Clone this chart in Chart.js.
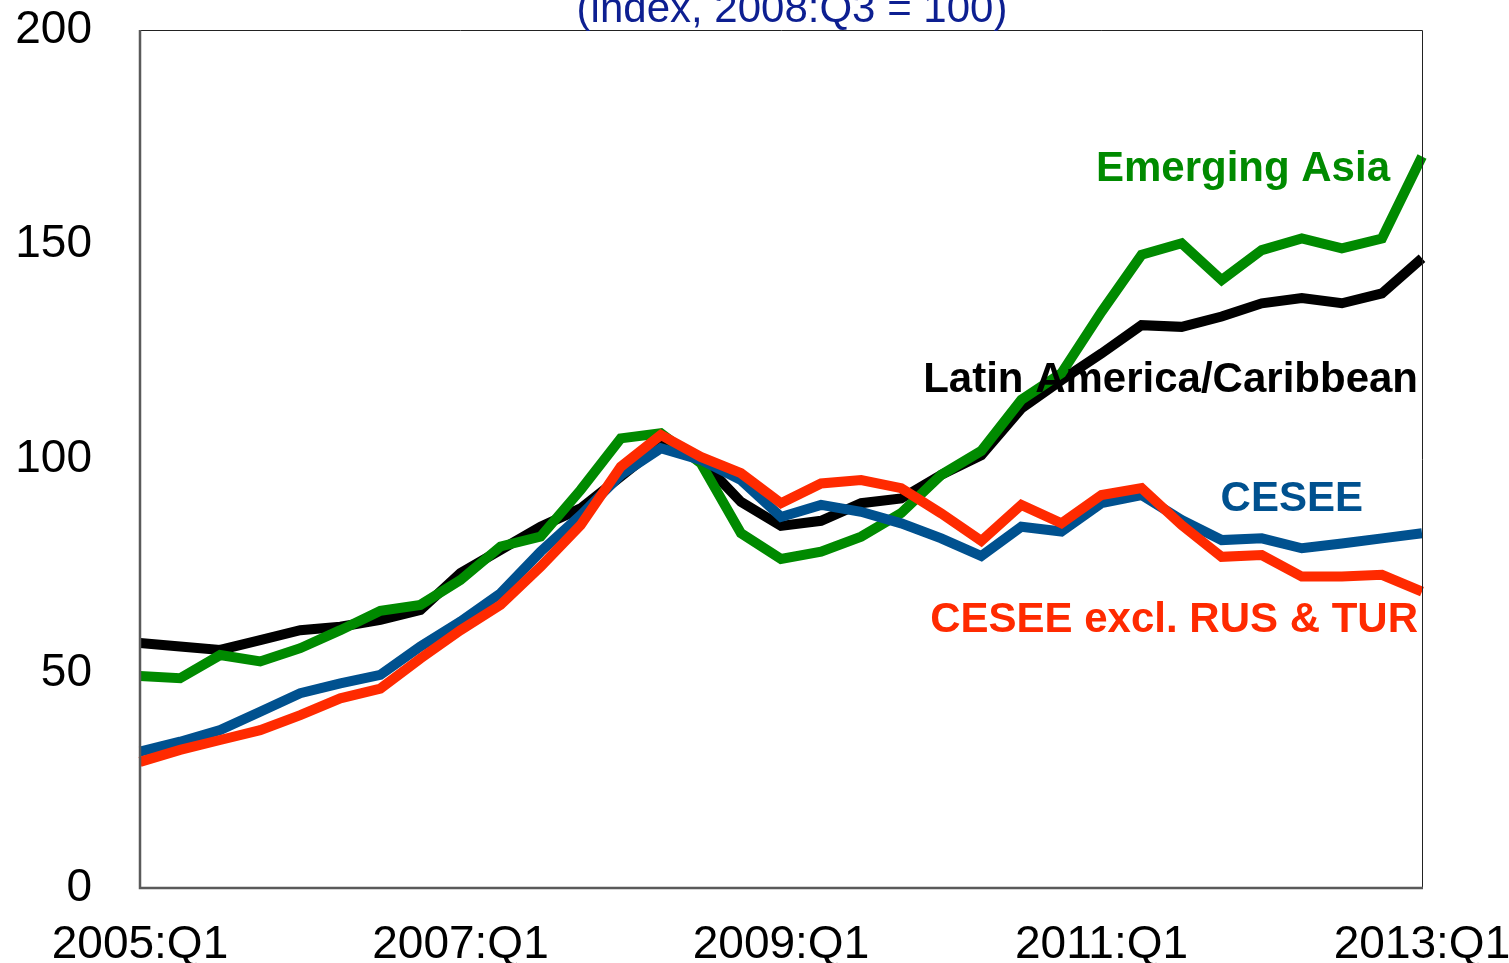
<!DOCTYPE html>
<html>
<head>
<meta charset="utf-8">
<script src="https://cdn.jsdelivr.net/npm/chart.js@4/dist/chart.umd.min.js"></script>
<style>
  html, body { margin: 0; padding: 0; background: #fff; }
  #wrap { width: 1509px; height: 963px; }
</style>
</head>
<body>
<div id="wrap"><canvas id="chart"></canvas></div>
<script>
// quarters 2005:Q1 .. 2013:Q1
const quarters = [];
for (let y = 2005; y <= 2013; y++) {
    for (let q = 1; q <= 4; q++) {
        if (y === 2013 && q > 1) break;
        quarters.push(y + ':Q' + q);
    }
}

// series (index, 2008:Q3 = 100)
const latinAmerica = [57.1, 56.3, 55.5, 57.8, 60.1, 60.9, 62.5, 64.8, 73.4, 78.8, 84.2, 88.5,
    95.9, 103.3, 99.8, 90.0, 84.4, 85.6, 89.7, 90.8, 96.3, 100.9, 111.8, 118.4,
    124.6, 131.2, 130.8, 133.2, 136.3, 137.5, 136.3, 138.6, 146.8];
const emergingAsia = [49.4, 48.9, 54.3, 52.8, 55.9, 60.1, 64.6, 66.0, 71.8, 79.6, 81.9, 92.8,
    104.8, 106.0, 99.0, 82.7, 76.7, 78.4, 81.9, 87.4, 96.3, 101.9, 113.8, 120.0,
    134.3, 147.6, 150.3, 141.7, 148.7, 151.4, 149.1, 151.4, 170.5];
const cesee = [31.8, 34.1, 36.8, 41.1, 45.4, 47.7, 49.7, 56.3, 62.1, 68.7, 78.4, 86.9,
    96.3, 102.5, 99.8, 95.1, 86.5, 89.3, 87.7, 85.0, 81.5, 77.4, 84.2, 83.1,
    89.7, 91.6, 85.8, 81.1, 81.5, 79.2, 80.3, 81.5, 82.7];
const ceseeExRusTur = [29.4, 32.2, 34.5, 36.8, 40.3, 44.2, 46.5, 53.5, 60.1, 66.0, 74.9, 84.6,
    98.2, 105.6, 100.5, 96.7, 89.7, 94.3, 95.1, 93.2, 87.3, 80.9, 89.3, 85.0,
    91.6, 93.2, 84.6, 77.2, 77.6, 72.6, 72.6, 73.0, 69.1];

const yTicks = [0, 50, 100, 150, 200];

const font = '"Liberation Sans", Arial, Helvetica, sans-serif';

// series labels drawn inside the plot
const seriesLabels = [
    { text: 'Emerging Asia', color: '#008a00', value: 164.8, dx: 32 },
    { text: 'Latin America/Caribbean', color: '#000000', value: 115.6, dx: 4 },
    { text: 'CESEE', color: '#00518f', value: 87.9, dx: 59 },
    { text: 'CESEE excl. RUS & TUR', color: '#ff2a00', value: 59.7, dx: 4 }
];

const framePlugin = {
    id: 'frame',
    afterDraw(chart) {
        const { ctx, chartArea: a, scales } = chart;
        ctx.save();
        // thin top and right border
        ctx.strokeStyle = '#222';
        ctx.lineWidth = 1;
        ctx.beginPath();
        ctx.moveTo(a.left, a.top + 0.5);
        ctx.lineTo(a.right + 0.5, a.top + 0.5);
        ctx.lineTo(a.right + 0.5, a.bottom);
        ctx.stroke();
        // heavier grey left and bottom axes
        ctx.strokeStyle = '#5a5a5a';
        ctx.lineWidth = 2.5;
        ctx.beginPath();
        ctx.moveTo(a.left, a.top);
        ctx.lineTo(a.left, a.bottom);
        ctx.lineTo(a.right + 1, a.bottom);
        ctx.stroke();
        // subtitle, cut off at the top like the original
        ctx.fillStyle = '#0d1f91';
        ctx.font = '42px ' + font;
        ctx.textAlign = 'center';
        ctx.textBaseline = 'alphabetic';
        ctx.fillText('(index, 2008:Q3 = 100)', 792, 22);
        // series names
        ctx.font = 'bold 42px ' + font;
        ctx.textAlign = 'right';
        seriesLabels.forEach(l => {
            ctx.fillStyle = l.color;
            ctx.fillText(l.text, a.right - l.dx, scales.y.getPixelForValue(l.value));
        });
        ctx.restore();
    }
};

function line(label, data, color) {
    return {
        label: label,
        data: data,
        borderColor: color,
        backgroundColor: color,
        borderWidth: 10,
        pointRadius: 0,
        tension: 0,
        fill: false
    };
}

// drop the extra room Chart.js keeps for half-labels at the ends
function noPad(scale) {
    scale.paddingTop = 0;
    scale.paddingBottom = 0;
    scale.paddingLeft = 0;
    scale.paddingRight = 0;
}

new Chart(document.getElementById('chart'), {
    type: 'line',
    data: {
        labels: quarters,
        // first dataset is drawn on top
        datasets: [
            line('CESEE excl. RUS & TUR', ceseeExRusTur, '#ff2a00'),
            line('CESEE', cesee, '#00518f'),
            line('Emerging Asia', emergingAsia, '#008a00'),
            line('Latin America/Caribbean', latinAmerica, '#000000')
        ]
    },
    options: {
        responsive: true,
        maintainAspectRatio: false,
        animation: false,
        layout: { padding: { top: 30, right: 87, left: 0, bottom: 0 } },
        plugins: {
            legend: { display: false },
            tooltip: { enabled: false }
        },
        scales: {
            x: {
                offset: false,
                grid: { display: false, drawTicks: false },
                border: { display: false },
                afterFit(scale) { scale.height = 75; noPad(scale); },
                ticks: {
                    autoSkip: false,
                    maxRotation: 0,
                    padding: 30,
                    color: '#000',
                    font: { family: font, size: 46 },
                    callback(v, i) { return i % 8 === 0 ? quarters[i] : ''; }
                }
            },
            y: {
                min: 0,
                max: 200,
                afterFit(scale) { scale.width = 140; noPad(scale); },
                afterBuildTicks(scale) { scale.ticks = yTicks.map(v => ({ value: v })); },
                grid: { display: false, drawTicks: false },
                border: { display: false },
                ticks: {
                    padding: 48,
                    color: '#000',
                    font: { family: font, size: 46 }
                }
            }
        }
    },
    plugins: [framePlugin]
});
</script>
</body>
</html>
